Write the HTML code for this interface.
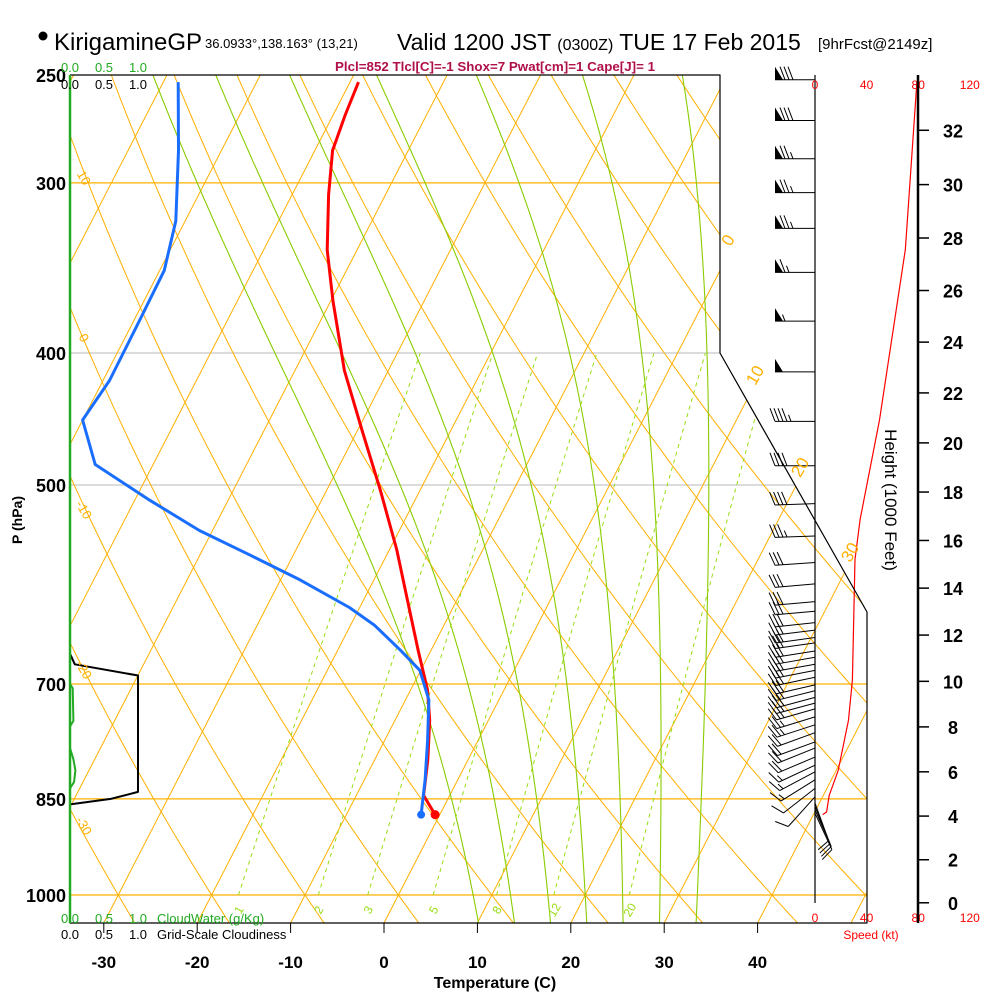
<!DOCTYPE html>
<html><head><meta charset="utf-8">
<style>
html,body{margin:0;padding:0;background:#fff;}
svg{display:block;font-family:"Liberation Sans",Arial,sans-serif;}
</style></head>
<body>
<svg id="chart" width="1000" height="1000" viewBox="0 0 1000 1000" xmlns="http://www.w3.org/2000/svg">
<defs><clipPath id="plotclip"><path d="M70,75 L720,75 L720,353 L867,612 L867,923 L70,923 Z"/></clipPath></defs>
<rect width="1000" height="1000" fill="#fff"/>
<g>
<circle cx="43" cy="36" r="4.5" fill="#000"/>
<text x="54" y="50" font-size="24">KirigamineGP</text>
<text x="205" y="48" font-size="13">36.0933°,138.163° (13,21)</text>
<text x="397" y="50" font-size="23">Valid 1200 JST <tspan font-size="16">(0300Z)</tspan> TUE 17 Feb 2015</text>
<text x="818" y="49" font-size="15">[9hrFcst@2149z]</text>
<text x="335" y="71" font-size="12.5" font-weight="bold" fill="#b0104a" textLength="320" lengthAdjust="spacingAndGlyphs">Plcl=852 Tlcl[C]=-1 Shox=7 Pwat[cm]=1 Cape[J]= 1</text>
</g>
<g id="grid" clip-path="url(#plotclip)"></g>
<g id="marks"></g>
<g id="axes"></g>
</svg>
<script>
// ---- data ----
const isobars = [300, 400, 500, 700, 850, 1000];
const pressureLabels = ["250","300","400","500","700","850","1000"];
const pressureLabelValues = [250,300,400,500,700,850,1000];
const tempTicks = [-30,-20,-10,0,10,20,30,40];
const moistThetaW = [8,12,16,20,24,28,32];
const mixRatios = [1,2,3,5,8,12,20];
const tempP = [873,845,796,744,707,661,618,558,504,456,412,366,336,306,284,267.5,253];
const tempT = [-0.5,-2.8,-4.3,-6.3,-8.2,-11.4,-14.5,-19.2,-24.3,-29.5,-34.7,-39.8,-43.2,-46.1,-48.1,-48.7,-49.1];
const dewP = [873,823,770,719,684,661,634,615,587,563,540,513,483,448,419,378,348,320,284,253];
const dewT = [-2.0,-3.5,-5.4,-7.5,-10.1,-13.3,-17.4,-21.1,-27.9,-34.6,-41.4,-48.4,-56.2,-60.0,-59.3,-59.4,-59.5,-61.0,-64.6,-68.4];
const spdP = [253,336,448,530,567,628,695,744,810,845,869,873];
const spdV = [79,70,50,35,31,30,29,26,18,11,9,6];
const barbP = [252,270,288,305,324,349,379,413,449,484,516,545,570,591,609,619,631,639,647,653,662,669,677,684,692,701,708,716,723,730,740,750,760,772,780,792,803,812,823,835,847,856,861,866,871];
const barbDir = [270,270,270,270,270,270,270,270,270,270,268,268,266,265,265,265,264,263,262,262,261,260,260,259,258,257,256,255,255,254,253,252,250,250,248,247,245,242,238,232,222,160,158,156,155];
const barbSpd = [80,78,76,75,73,65,55,50,45,40,38,35,32,30,30,30,30,30,30,30,30,30,30,30,29,29,28,28,27,26,25,24,22,21,20,18,16,15,14,12,10,8,8,9,9];
const heightTicks = [0,2,4,6,8,10,12,14,16,18,20,22,24,26,28,30,32];
const speedTicks = [0,40,80,120];
const cloudWaterP = [250,660,700,705,745,752,780,795,810,826,835,873];
const cloudWaterV = [0,0,0,0.04,0.05,0,0,0.05,0.08,0.06,0,0];
const cloudFracP = [665,677,690,840,850,858];
const cloudFracV = [0,0.07,1.0,1.0,0.6,0];

// ---- axis functions ----
const NS="http://www.w3.org/2000/svg";
function yP(p){return 895-591.5*Math.log(1000/p);}
function xT(T,y){return 384+9.34*T+0.515*(923-y);}
function xSpd(s){return 815+s*1.29;}
function xCloud(v){return 70+v*68;}
function pFromFt(kft){return 1013.25*Math.pow(1-6.8756e-6*kft*1000,5.2559);}
function el(tag,parent){const e=document.createElementNS(NS,tag);parent.appendChild(e);return e;}
function line(parent,x1,y1,x2,y2,stroke,w){const e=el('line',parent);e.setAttribute('x1',x1);e.setAttribute('y1',y1);e.setAttribute('x2',x2);e.setAttribute('y2',y2);e.setAttribute('stroke',stroke);e.setAttribute('stroke-width',w);return e;}
function poly(parent,pts,stroke,w,dash){const e=el('polyline',parent);e.setAttribute('points',pts.map(q=>q[0].toFixed(1)+','+q[1].toFixed(1)).join(' '));e.setAttribute('fill','none');e.setAttribute('stroke',stroke);e.setAttribute('stroke-width',w);if(dash)e.setAttribute('stroke-dasharray',dash);e.setAttribute('stroke-linejoin','round');return e;}
function txt(parent,x,y,s,size,fill,anchor){const e=el('text',parent);e.setAttribute('x',x);e.setAttribute('y',y);e.setAttribute('font-size',size);e.setAttribute('fill',fill||'#000');if(anchor)e.setAttribute('text-anchor',anchor);e.textContent=s;return e;}
const grid=document.getElementById('grid'), marks=document.getElementById('marks'), axes=document.getElementById('axes');
const ORANGE="#ffb000";

// isobars
isobars.forEach(p=>{const y=yP(p);const c=(p==400||p==500)?"#c8c8c8":ORANGE;
 const l=line(grid,70,y,900,y,c,1.2);
 
 });
// isotherms
for(let T=-110;T<=50;T+=10){const y1=923,y2=75;
 const l=line(grid,xT(T,y1),y1,xT(T,y2),y2,ORANGE,1);
 
 }
// dry adiabats
for(let th=-40;th<=170;th+=10){const pts=[];for(let p=1060;p>=245;p-=10){const T=(th+273.15)*Math.pow(p/1000,0.286)-273.15;const y=yP(p);pts.push([xT(T,y),y]);}
 const l=poly(grid,pts,ORANGE,1);
 
 }
// moist adiabats
function es(T){return 6.112*Math.exp(17.67*T/(T+243.5));}
function moistStep(T,p,dp){const Tk=T+273.15;const e=es(T);const rs=0.622*e/(p-e);const Lv=2.5e6,Rd=287,cp=1005;
 const g=(Rd*Tk+Lv*rs)/(cp+Lv*Lv*rs*0.622/(Rd*Tk*Tk))/p;return T+g*dp;}
moistThetaW.forEach(tw=>{let pts=[];let T=tw;let p=1000;
 const down=[];let Td=tw;for(let q=1000;q<1060;q+=2){Td=moistStep(Td,q,2);down.push([xT(Td,yP(q+2)),yP(q+2)]);}
 pts=down.reverse();pts.push([xT(tw,yP(1000)),yP(1000)]);
 while(p>250){T=moistStep(T,p,-2);p-=2;const y=yP(p);pts.push([xT(T,y),y]);}
 const l=poly(grid,pts,"#88cc00",1.1);
 
 });
// mixing ratio lines
mixRatios.forEach(w=>{const pts=[];for(let p=1000;p>=400;p-=10){const ww=w/1000;const e=ww*p/(0.622+ww);const a=Math.log(e/6.112);const Td=243.5*a/(17.67-a);const y=yP(p);pts.push([xT(Td,y),y]);}
 const l=poly(grid,pts,"#99dd11",1,"4,4");
 
 
 const t=txt(grid,pts[0][0]+4,912,String(w),12,"#99dd11","middle");
 t.setAttribute('transform','rotate(-60 '+(pts[0][0]+4)+' 912)');
 
 });
// isotherm labels on right boundary
[[0,733,243],[10,760,378],[20,805,470],[30,855,555]].forEach(a=>{const t=txt(axes,a[1],a[2],String(a[0]),17,ORANGE,"middle");t.setAttribute('transform','rotate(-60 '+a[1]+' '+a[2]+')');
 
 });
// dry adiabat labels on left
[["10",180],["0",340],["-10",512],["-20",672],["-30",828]].forEach(a=>{const t=txt(axes,80,a[1],a[0],13,ORANGE,"middle");t.setAttribute('transform','rotate(60 80 '+a[1]+')');
 
 });

// frame
const frame=poly(axes,[[70,75],[720,75],[720,353],[867,612],[867,923],[70,923],[70,75]],"#000",1.2);


const gl=line(axes,70,75,70,923,"#22aa22",2.5);


// pressure labels
pressureLabelValues.forEach((p,i)=>{const t=txt(axes,66,yP(p)+7,pressureLabels[i],18,"#000","end");
 t.setAttribute('font-weight','bold');
 
 });
const pt=txt(axes,22,520,"P (hPa)",14,"#000","middle");pt.setAttribute('transform','rotate(-90 22 520)');
pt.setAttribute('font-weight','bold');


// temperature ticks
tempTicks.forEach(T=>{const x=xT(T,923);line(axes,x,923,x,933,"#000",1);
 const t=txt(axes,x,968,String(T),17,"#000","middle");
 t.setAttribute('font-weight','bold');
 
 });
const xt=txt(axes,495,988,"Temperature (C)",16,"#000","middle");
xt.setAttribute('font-weight','bold');


// cloud scale labels
[["0.0",70],["0.5",104],["1.0",138]].forEach(a=>{
 const g1=txt(axes,a[1],72,a[0],13,"#22aa22","middle");
 const b1=txt(axes,a[1],89,a[0],13,"#000","middle");
 const g2=txt(axes,a[1],923,a[0],13,"#22aa22","middle");
 const b2=txt(axes,a[1],939,a[0],13,"#000","middle");});
const cw=txt(axes,157,923,"CloudWater (g/Kg)",13,"#22aa22");
const gc=txt(axes,157,939,"Grid-Scale Cloudiness",13,"#000");

// cloud profiles
const cwl=poly(marks,cloudWaterP.map((p,i)=>[xCloud(cloudWaterV[i]),yP(p)]),"#22aa22",2);


const cfl=poly(marks,[[70,yP(660)]].concat(cloudFracP.map((p,i)=>[xCloud(cloudFracV[i]),yP(p)])),"#000",2);



// temperature & dewpoint
const tl=poly(marks,tempP.map((p,i)=>{const y=yP(p);return [xT(tempT[i],y),y];}),"#ff0000",3);


const dl=poly(marks,dewP.map((p,i)=>{const y=yP(p);return [xT(dewT[i],y),y];}),"#1a6eff",3);


const tc=el('circle',marks);tc.setAttribute('cx',xT(tempT[0],yP(tempP[0])));tc.setAttribute('cy',yP(tempP[0]));tc.setAttribute('r',4.5);tc.setAttribute('fill','#ff0000');


const dc=el('circle',marks);dc.setAttribute('cx',xT(dewT[0],yP(dewP[0])));dc.setAttribute('cy',yP(dewP[0]));dc.setAttribute('r',4);dc.setAttribute('fill','#1a6eff');



// wind column
const wc=line(axes,815,75,815,903,"#000",1.2);


speedTicks.forEach(s=>{
 const a=txt(axes,xSpd(s),89,String(s),12,"#ff0000","middle");
 const b=txt(axes,xSpd(s),922,String(s),12,"#ff0000","middle");});
const sk=txt(axes,871,939,"Speed (kt)",12,"#ff0000","middle");


const sl=poly(marks,spdP.map((p,i)=>[xSpd(spdV[i]),yP(p)]),"#ff0000",1.2);


// barbs
barbP.forEach((p,i)=>{const y=yP(p);const d=barbDir[i]*Math.PI/180;const dx=Math.sin(d),dy=-Math.cos(d);
 const L=40,B=13;const g=el('g',marks);
 
 
 const ex=815+dx*L,ey=y+dy*L;line(g,815,y,ex,ey,"#000",1);
 const px=-dy,py=dx;let s=Math.round(barbSpd[i]/5)*5;let pos=0;
 while(s>=50){const a=[ex-dx*pos,ey-dy*pos];const pg=el('polygon',g);
  pg.setAttribute('points',[a,[a[0]+px*B,a[1]+py*B],[a[0]-dx*8,a[1]-dy*8]].map(q=>q[0].toFixed(1)+','+q[1].toFixed(1)).join(' '));pg.setAttribute('fill','#000');
  pos+=10;s-=50;}
 while(s>=10){const a=[ex-dx*pos,ey-dy*pos];line(g,a[0],a[1],a[0]+px*B+dx*5,a[1]+py*B+dy*5,"#000",1);pos+=4;s-=10;}
 if(s>=5){if(pos==0)pos=4;const a=[ex-dx*pos,ey-dy*pos];line(g,a[0],a[1],a[0]+px*B*0.5+dx*2.5,a[1]+py*B*0.5+dy*2.5,"#000",1);}
});
// height axis
const ha=line(axes,918,75,918,923,"#000",2.5);


heightTicks.forEach(h=>{const y=yP(pFromFt(h));line(axes,918,y,929,y,"#000",1.5);
 const t=txt(axes,953,y+7,String(h),18,"#000","middle");
 t.setAttribute('font-weight','bold');
 
 });
const ht=txt(axes,885,500,"Height (1000 Feet)",17,"#000","middle");ht.setAttribute('transform','rotate(90 885 500)');


</script>
</body></html>
